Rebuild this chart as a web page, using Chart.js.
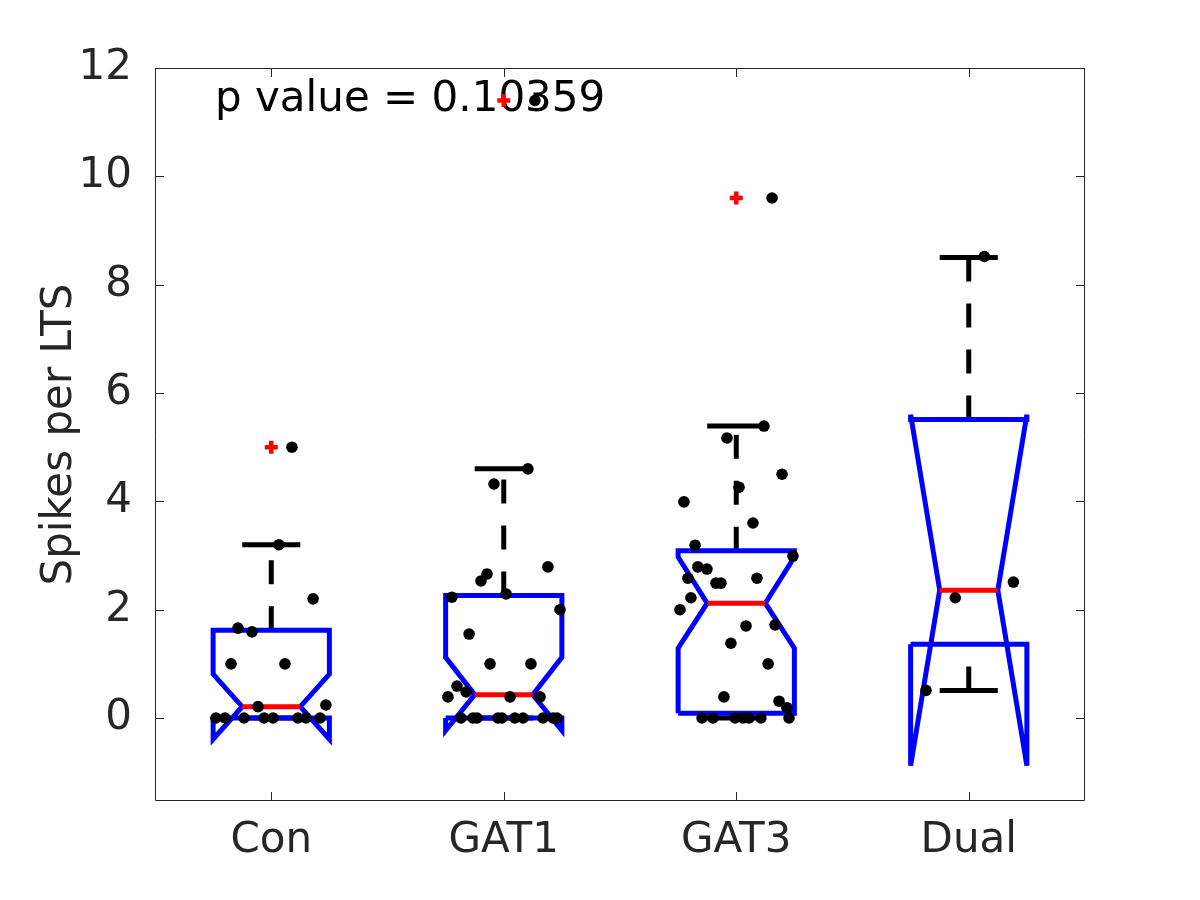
<!DOCTYPE html>
<html lang="en">
<head>
    <meta charset="UTF-8">
    <title>Spikes per LTS</title>
    <script src="https://cdn.jsdelivr.net/npm/chart.js"></script>
    <style>
        body { margin: 0; background: white; }
        canvas { display: block; }
    </style>
</head>
<body>
    <canvas id="boxChart" width="1200" height="900"></canvas>

    <script>
        // groups and box statistics
        const categories = ['Con', 'GAT1', 'GAT3', 'Dual'];
        const q1 = [0, 0, 0.09, 1.36];
        const medians = [0.21, 0.43, 2.12, 2.36];
        const q3 = [1.62, 2.26, 3.09, 5.51];
        const notchLow = [-0.39, -0.23, 1.29, -0.88];
        const notchHigh = [0.81, 1.12, 2.97, 5.60];
        const whiskerLow = [0, 0, 0, 0.51];
        const whiskerHigh = [3.2, 4.6, 5.39, 8.5];
        const outliers = [5.0, 11.4, 9.6, null];
        const yTicks = [0, 2, 4, 6, 8, 10, 12];
        const pValueText = 'p value = 0.10359';

        // raw points with their horizontal jitter
        const conValues = [5.0, 3.2, 2.2, 1.66, 1.59, 1.0, 1.0, 0.21, 0.24, 0, 0, 0, 0, 0, 0, 0, 0];
        const conJitter = [0.089, 0.033, 0.18, -0.143, -0.083, -0.173, 0.059, -0.057, 0.235, -0.238, -0.199, -0.117, -0.031, 0.008, 0.115, 0.149, 0.21];
        const gat1Values = [11.4, 4.6, 4.32, 2.79, 2.66, 2.53, 2.29, 2.23, 2.0, 1.55, 1.0, 1.0, 0.59, 0.48, 0.39, 0.39, 0.39, 0, 0, 0, 0, 0, 0, 0, 0, 0, 0];
        const gat1Jitter = [0.134, 0.104, -0.042, 0.19, -0.072, -0.098, 0.01, -0.223, 0.242, -0.149, -0.059, 0.117, -0.201, -0.162, -0.24, 0.027, 0.156, -0.184, -0.132, -0.115, -0.025, -0.008, 0.048, 0.083, 0.169, 0.212, 0.229];
        const gat3Values = [9.6, 5.39, 5.17, 4.5, 4.26, 3.99, 3.6, 3.19, 2.99, 2.79, 2.75, 2.58, 2.49, 2.49, 2.58, 2.22, 2.0, 1.7, 1.72, 1.38, 1.0, 0.39, 0.31, 0.19, 0, 0, 0, 0, 0, 0, 0];
        const gat3Jitter = [0.154, 0.119, -0.04, 0.197, 0.012, -0.225, 0.072, -0.177, 0.244, -0.165, -0.126, -0.208, -0.087, -0.066, 0.089, -0.195, -0.242, 0.042, 0.167, -0.023, 0.137, -0.053, 0.184, 0.218, -0.147, -0.1, -0.005, 0.029, 0.055, 0.106, 0.227];
        const dualValues = [8.52, 2.51, 2.22, 0.51];
        const dualJitter = [0.067, 0.192, -0.058, -0.184];

        const groupValues = [conValues, gat1Values, gat3Values, dualValues];
        const groupJitter = [conJitter, gat1Jitter, gat3Jitter, dualJitter];

        const boxHalf = 0.25;
        const notchHalf = 0.125;
        const capHalf = 0.125;
        const lineW = 5;
        const textColor = '#262626';
        const fontFamily = '"DejaVu Sans", sans-serif';

        function lineSet(points, color, dash, order) {
            return {
                data: points,
                showLine: true,
                borderColor: color,
                borderWidth: lineW,
                borderDash: dash,
                pointRadius: 0,
                pointHoverRadius: 0,
                tension: 0,
                order: order
            };
        }

        const datasets = [];
        categories.forEach((name, i) => {
            const c = i + 1;
            const L = c - boxHalf, R = c + boxHalf;
            const iL = c - notchHalf, iR = c + notchHalf;

            // dashed whiskers: upper from q3 outwards, lower from the end towards q1
            datasets.push(lineSet([{ x: c, y: q3[i] }, { x: c, y: whiskerHigh[i] }], '#000000', [24, 22], 6));
            datasets.push(lineSet([{ x: c, y: whiskerLow[i] }, { x: c, y: q1[i] }], '#000000', [24, 22], 6));
            // caps
            datasets.push(lineSet([{ x: c - capHalf, y: whiskerHigh[i] }, { x: c + capHalf, y: whiskerHigh[i] }], '#000000', [], 5));
            datasets.push(lineSet([{ x: c - capHalf, y: whiskerLow[i] }, { x: c + capHalf, y: whiskerLow[i] }], '#000000', [], 5));
            // notched box outline
            datasets.push(lineSet([
                { x: L, y: q1[i] }, { x: L, y: notchLow[i] }, { x: iL, y: medians[i] },
                { x: L, y: notchHigh[i] }, { x: L, y: q3[i] }, { x: R, y: q3[i] },
                { x: R, y: notchHigh[i] }, { x: iR, y: medians[i] }, { x: R, y: notchLow[i] },
                { x: R, y: q1[i] }, { x: L, y: q1[i] }
            ], '#0000ff', [], 4));
            // median
            datasets.push(lineSet([{ x: iL, y: medians[i] }, { x: iR, y: medians[i] }], '#ff0000', [], 3));
        });

        datasets.push({
            data: outliers.map((v, i) => v === null ? null : { x: i + 1, y: v }).filter(p => p),
            pointStyle: 'cross',
            pointRadius: 6.5,
            pointBorderWidth: 4.5,
            pointBorderColor: '#ff0000',
            pointBackgroundColor: '#ff0000',
            showLine: false,
            order: 2
        });

        const dots = [];
        groupValues.forEach((vals, i) => {
            vals.forEach((v, k) => dots.push({ x: i + 1 + groupJitter[i][k], y: v }));
        });
        datasets.push({
            data: dots,
            pointStyle: 'circle',
            pointRadius: 5.8,
            pointBorderWidth: 0,
            pointBackgroundColor: '#000000',
            showLine: false,
            order: 0
        });

        const framePlugin = {
            id: 'frame',
            beforeDatasetsDraw(chart) {
                const { ctx, scales: { x, y } } = chart;
                ctx.save();
                ctx.font = '42px ' + fontFamily;
                ctx.fillStyle = '#000000';
                ctx.textAlign = 'left';
                ctx.textBaseline = 'middle';
                ctx.fillText(pValueText, x.getPixelForValue(0.758), y.getPixelForValue(11.4));
                ctx.restore();
            },
            afterDraw(chart) {
                const { ctx, chartArea: a, scales: { x, y } } = chart;
                const tl = 9;
                ctx.save();
                ctx.strokeStyle = textColor;
                ctx.lineWidth = 1;
                ctx.beginPath();
                ctx.rect(a.left + 0.5, a.top + 0.5, a.right - a.left - 1, a.bottom - a.top - 1);
                yTicks.forEach(v => {
                    const py = Math.round(y.getPixelForValue(v)) + 0.5;
                    ctx.moveTo(a.left, py); ctx.lineTo(a.left + tl, py);
                    ctx.moveTo(a.right, py); ctx.lineTo(a.right - tl, py);
                });
                categories.forEach((n, i) => {
                    const px = Math.round(x.getPixelForValue(i + 1)) + 0.5;
                    ctx.moveTo(px, a.bottom); ctx.lineTo(px, a.bottom - tl);
                    ctx.moveTo(px, a.top); ctx.lineTo(px, a.top + tl);
                });
                ctx.stroke();
                ctx.restore();
            }
        };

        new Chart(document.getElementById('boxChart'), {
            type: 'scatter',
            data: { datasets: datasets },
            plugins: [framePlugin],
            options: {
                responsive: false,
                animation: false,
                layout: { padding: { left: 0, top: 68, right: 115, bottom: 0 } },
                plugins: {
                    legend: { display: false },
                    tooltip: { enabled: false }
                },
                scales: {
                    x: {
                        type: 'linear',
                        min: 0.5,
                        max: 4.5,
                        grid: { display: false },
                        border: { display: false },
                        afterBuildTicks: scale => { scale.ticks = categories.map((n, i) => ({ value: i + 1 })); },
                        afterFit: scale => { scale.height = 99; },
                        ticks: {
                            autoSkip: false,
                            maxRotation: 0,
                            padding: 7,
                            color: textColor,
                            font: { family: fontFamily, size: 42 },
                            callback: v => categories[v - 1]
                        }
                    },
                    y: {
                        min: -1.532,
                        max: 12,
                        grid: { display: false },
                        border: { display: false },
                        afterBuildTicks: scale => { scale.ticks = yTicks.map(v => ({ value: v })); },
                        afterFit: scale => { scale.width = 155; },
                        ticks: {
                            padding: 15,
                            color: textColor,
                            font: { family: fontFamily, size: 42 }
                        },
                        title: {
                            display: true,
                            text: 'Spikes per LTS',
                            color: textColor,
                            font: { family: fontFamily, size: 42 },
                            padding: { top: 35, bottom: 0 }
                        }
                    }
                }
            }
        });
    </script>
</body>
</html>
